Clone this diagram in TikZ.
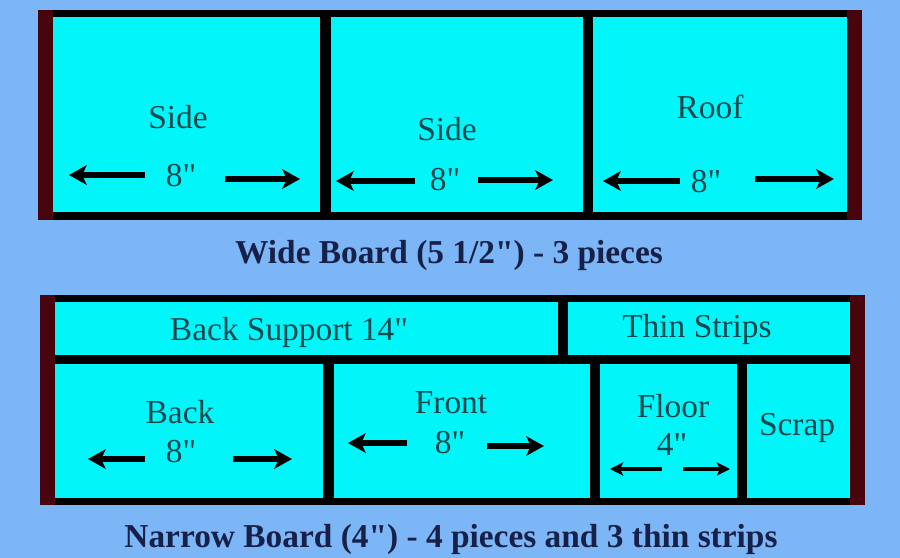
\documentclass[tikz,border=0pt]{standalone}
\usepackage{fontspec}
\setmainfont{Liberation Serif}[Ligatures=TeXOff]
\usetikzlibrary{arrows.meta}
\definecolor{skyblue}{RGB}{125,182,246}
\definecolor{boardcyan}{RGB}{0,246,248}
\definecolor{edgered}{RGB}{72,4,12}
\definecolor{labelteal}{RGB}{10,72,78}
\definecolor{captionblue}{RGB}{22,32,72}

\begin{document}
\begin{tikzpicture}[x=0.02cm,y=-0.02cm,
		piece/.style={fill=boardcyan},
		cutlabel/.style={anchor=base,inner sep=0pt,text=labelteal,font=\fontsize{19}{22}\selectfont},
		caption/.style={anchor=base,inner sep=0pt,text=captionblue,font=\fontsize{19}{22}\selectfont\bfseries},
		dimarrow/.style={-{Stealth[length=10pt,width=11pt,inset=2.5pt]},line width=3pt},
		smallarrow/.style={-{Stealth[length=7.5pt,width=7.5pt,inset=1.8pt]},line width=2pt}]
			\useasboundingbox (0,0) rectangle (900,558);
			\fill[skyblue] (0,0) rectangle (900,558);

			\fill[black] (38,10) rectangle (862,220);
			\fill[edgered] (38,10) rectangle (53,220);
			\fill[edgered] (847,10) rectangle (862,220);
			\fill[piece] (53,17) rectangle (320,212);
			\fill[piece] (331,17) rectangle (583,212);
			\fill[piece] (593,17) rectangle (847,212);

			\node[cutlabel] (side1) at (178,128) {Side};
			\node[cutlabel] (len1) at (181,186) {8"};
			\draw[dimarrow] (145,175) -- (69,175);
			\draw[dimarrow] (225,179) -- (300,179);
			\node[cutlabel] (side2) at (447,140) {Side};
			\node[cutlabel] (len2) at (445,190) {8"};
			\draw[dimarrow] (415,181) -- (336,181);
			\draw[dimarrow] (478,180) -- (553,180);
			\node[cutlabel] (roof) at (710,118) {Roof};
			\node[cutlabel] (len3) at (706,192) {8"};
			\draw[dimarrow] (680,181) -- (603,181);
			\draw[dimarrow] (755,179) -- (834,179);
			\node[caption] (wide) at (449,263) {Wide Board (5 1/2") - 3 pieces};

			\fill[black] (40,295) rectangle (865,505);
			\fill[edgered] (40,295) rectangle (55,505);
			\fill[edgered] (850,295) rectangle (865,505);
			\fill[piece] (55,302) rectangle (558,355);
			\fill[piece] (568,302) rectangle (850,355);
			\fill[piece] (55,364) rectangle (323,498);
			\fill[piece] (334,364) rectangle (590,498);
			\fill[piece] (600,364) rectangle (737,498);
			\fill[piece] (747,364) rectangle (850,498);

			\node[cutlabel] (support) at (289,340) {Back Support 14"};
			\node[cutlabel] (strips) at (697,337) {Thin Strips};
			\node[cutlabel] (back) at (180,423) {Back};
			\node[cutlabel] (len4) at (181,462) {8"};
			\draw[dimarrow] (145,459) -- (88,459);
			\draw[dimarrow] (233,459) -- (292,459);
			\node[cutlabel] (front) at (451,413) {Front};
			\node[cutlabel] (len5) at (450,453) {8"};
			\draw[dimarrow] (407,443) -- (348,443);
			\draw[dimarrow] (487,446) -- (544,446);
			\node[cutlabel] (floor) at (673,417) {Floor};
			\node[cutlabel] (len6) at (672,455) {4"};
			\draw[smallarrow] (662,469) -- (610,469);
			\draw[smallarrow] (683,469) -- (730,469);
			\node[cutlabel] (scrap) at (797,435) {Scrap};
			\node[caption] (narrow) at (451,547) {Narrow Board (4") - 4 pieces and 3 thin strips};
\end{tikzpicture}
\end{document}
